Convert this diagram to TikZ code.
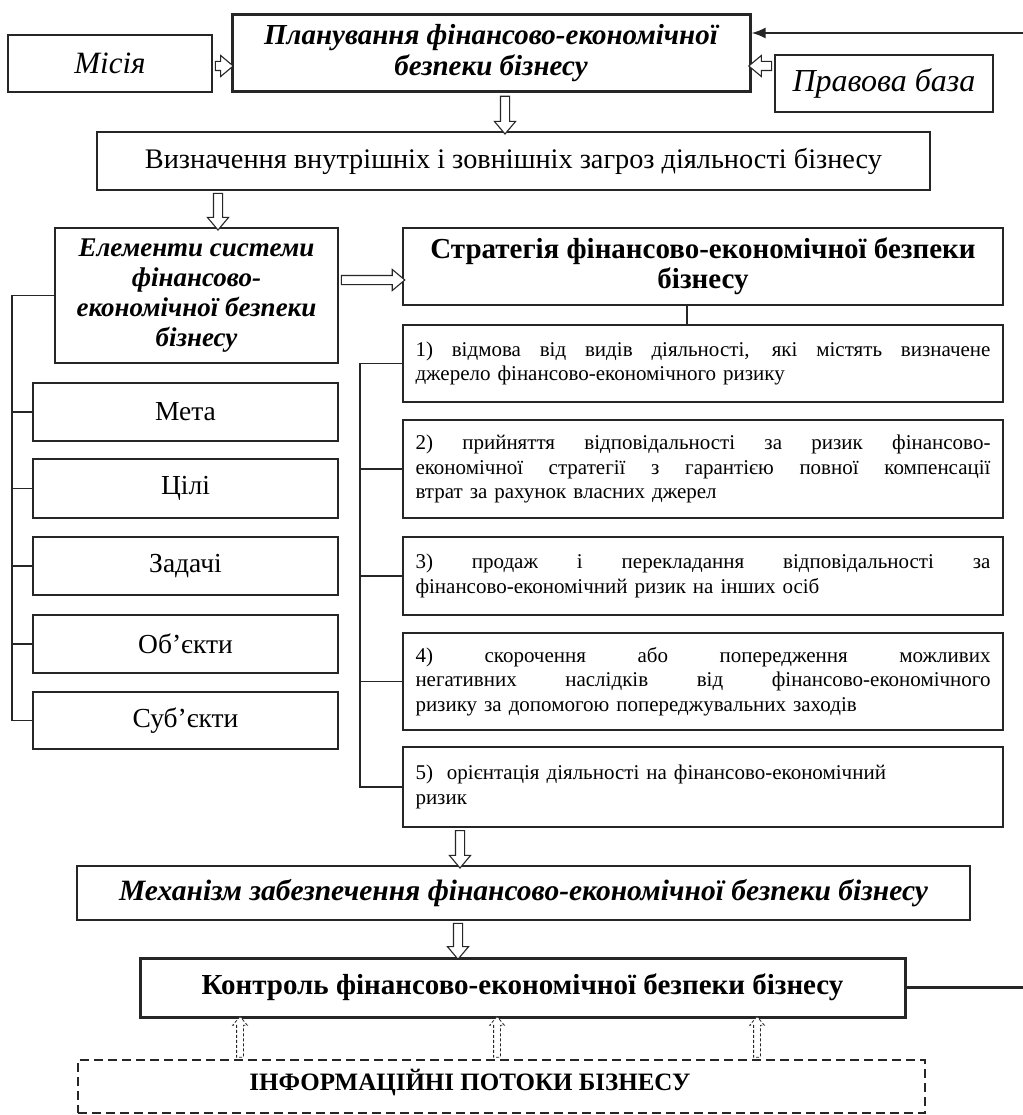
\documentclass[tikz,border=0pt]{standalone}
\usepackage{fontspec}
\setmainfont{Liberation Serif}
\usetikzlibrary{calc,shapes.arrows,arrows.meta}
\newcommand\fs[2]{\fontsize{#1}{#2}\selectfont}
\newcommand\jl[1]{\makebox[575pt][s]{\spaceskip=0.25em plus 20em\relax #1}}
% hollow block arrow from #3 to #4, named #2
\newcommand\blk[4][]{\path let \p1=#3, \p2=#4, \n1={veclen(\x2-\x1,\y2-\y1)}, \n2={atan2(\y2-\y1,\x2-\x1)} in node[blkarrow,#1,minimum height=\n1,rotate=\n2] (#2) at ($(\p1)!0.5!(\p2)$) {};}
\begin{document}
\begin{tikzpicture}[x=1pt,y=-1pt,
  box/.style={draw=black!85, line width=1.4pt, inner sep=0pt, align=center},
  thickbox/.style={box, line width=3pt},
  item/.style={box, line width=1.7pt, minimum width=600pt, text width=575pt, align=left, font=\fs{21}{24.5}},
  lbox/.style={box, minimum width=305pt, font=\fs{27.5}{30}},
  conn/.style={draw=black!85, line width=1.4pt},
  blkarrow/.style={single arrow, draw=black!85, fill=white, line width=1.1pt, inner xsep=0pt, inner ysep=4pt, single arrow head extend=6pt, single arrow tip angle=80},
  dblk/.style={densely dashed, line width=0.8pt, inner ysep=3pt, single arrow head extend=4pt}
]
\useasboundingbox (0,0) rectangle (1022,1115);
\fill[white] (0,0) rectangle (1022,1115);

% top row
\node[box, minimum width=204pt, minimum height=57pt, font=\fs{31}{34}\itshape] (misia) at (110,63.5) {Місія};
\node[thickbox, minimum width=518pt, minimum height=77pt, font=\fs{29}{31}\bfseries\itshape] (plan) at (491,53.5) {Планування фінансово-економічної\\безпеки бізнесу};
\node[box, minimum width=218pt, minimum height=57pt, font=\fs{32}{34}\itshape] (pravo) at (884,83.5) {Правова база};

\node[box, minimum width=833pt, minimum height=58pt, font=\fs{28.3}{30}] (vyzn) at (513.5,161) {Визначення внутрішніх і зовнішніх загроз діяльності бізнесу};

\node[box, minimum width=283pt, minimum height=135pt, font=\fs{27}{30}\bfseries\itshape] (elem) at (196.5,295.5) {Елементи системи\\фінансово-\\економічної безпеки\\бізнесу};

\node[box, line width=1.8pt, minimum width=600pt, minimum height=77pt, font=\fs{29}{30}\bfseries] (strat) at (703,266.5) {Стратегія фінансово-економічної безпеки\\бізнесу};

% strategy items
\node[item, minimum height=77pt] (i1) at (703,363.5) {\jl{1) відмова від видів діяльності, які містять визначене}\\джерело фінансово-економічного ризику};
\node[item, minimum height=98pt] (i2) at (703,469) {\jl{2) прийняття відповідальності за ризик фінансово-}\\\jl{економічної стратегії з гарантією повної компенсації}\\втрат за рахунок власних джерел};
\node[item, minimum height=78pt] (i3) at (703,576) {\jl{3) продаж і перекладання відповідальності за}\\фінансово-економічний ризик на інших осіб};
\node[item, minimum height=97pt] (i4) at (703,681.5) {\jl{4) скорочення або попередження можливих}\\\jl{негативних наслідків від фінансово-економічного}\\ризику за допомогою попереджувальних заходів};
\node[item, minimum height=80pt] (i5) at (703,787) {5)\ \ орієнтація діяльності на фінансово-економічний\\ризик};

% element boxes
\node[lbox, minimum height=58pt] (meta) at (185.5,412) {Мета};
\node[lbox, minimum height=59pt] (cili) at (185.5,488.5) {Цілі};
\node[lbox, minimum height=58pt] (zad) at (185.5,566) {Задачі};
\node[lbox, minimum height=58pt] (obj) at (185.5,644) {Об’єкти};
\node[lbox, minimum height=57pt] (subj) at (185.5,720.5) {Суб’єкти};

% bottom
\node[box, minimum width=893pt, minimum height=54pt, font=\fs{29.5}{30}\bfseries\itshape] (mech) at (523.5,893) {Механізм забезпечення фінансово-економічної безпеки бізнесу};
\node[thickbox, minimum width=765pt, minimum height=59pt, font=\fs{29}{30}\bfseries] (kontr) at (522.5,987.5) {Контроль фінансово-економічної безпеки бізнесу};
\node[draw=black!85, line width=1.6pt, dash pattern=on 9pt off 5pt, minimum width=847pt, minimum height=53pt, inner sep=0pt] (info) at (501.5,1086.5) {};
\node[font=\fs{25}{28}\bfseries, inner sep=0pt] (infot) at (470,1083) {ІНФОРМАЦІЙНІ ПОТОКИ БІЗНЕСУ};

% helper coordinates
\coordinate (ya) at (0,66);
\coordinate (xa) at (505,0);
\coordinate (xb) at (218,0);
\coordinate (yb) at (0,280);
\coordinate (xs) at (687,0);
\coordinate (xc) at (460,0);
\coordinate (xd) at (458,0);
\coordinate (xe1) at (240,0);
\coordinate (xe2) at (497,0);
\coordinate (xe3) at (757,0);
\coordinate (L) at (12,0);
\coordinate (R) at (360,0);
\coordinate (fbx) at (1040,0);
\coordinate (fby) at (0,33);

% block arrows
\blk{a1}{(misia.east |- ya)}{(plan.west |- ya)}
\blk{a2}{(pravo.west |- ya)}{(plan.east |- ya)}
\blk{a3}{(plan.south -| xa)}{(vyzn.north -| xa)}
\blk{a4}{(vyzn.south -| xb)}{(elem.north -| xb)}
\blk{a5}{(elem.east |- yb)}{(strat.west |- yb)}
\blk{a6}{(i5.south -| xc)}{(mech.north -| xc)}
\blk{a7}{(mech.south -| xd)}{(kontr.north -| xd)}
\blk[dblk]{d1}{(info.north -| xe1)}{(kontr.south -| xe1)}
\blk[dblk]{d2}{(info.north -| xe2)}{(kontr.south -| xe2)}
\blk[dblk]{d3}{(info.north -| xe3)}{(kontr.south -| xe3)}

% strategy to items
\draw[conn] (strat.south -| xs) -- (i1.north -| xs);

% left bracket
\draw[conn] (elem.west) -- (L |- elem.west) -- (L |- subj.west) -- (subj.west);
\foreach \n in {meta,cili,zad,obj} \draw[conn] (L |- \n.west) -- (\n.west);

% right bracket
\draw[conn] (i1.west) -- (R |- i1.west) -- (R |- i5.west) -- (i5.west);
\foreach \n in {i2,i3,i4} \draw[conn] (R |- \n.west) -- (\n.west);

% feedback loop (vertical part runs beyond the right edge)
\draw[conn, line width=2.2pt, -{Latex[length=14pt,width=11pt]}] (kontr.east) -- (fbx |- kontr.east) -- (fbx |- fby) -- (plan.east |- fby);
\end{tikzpicture}
\end{document}
